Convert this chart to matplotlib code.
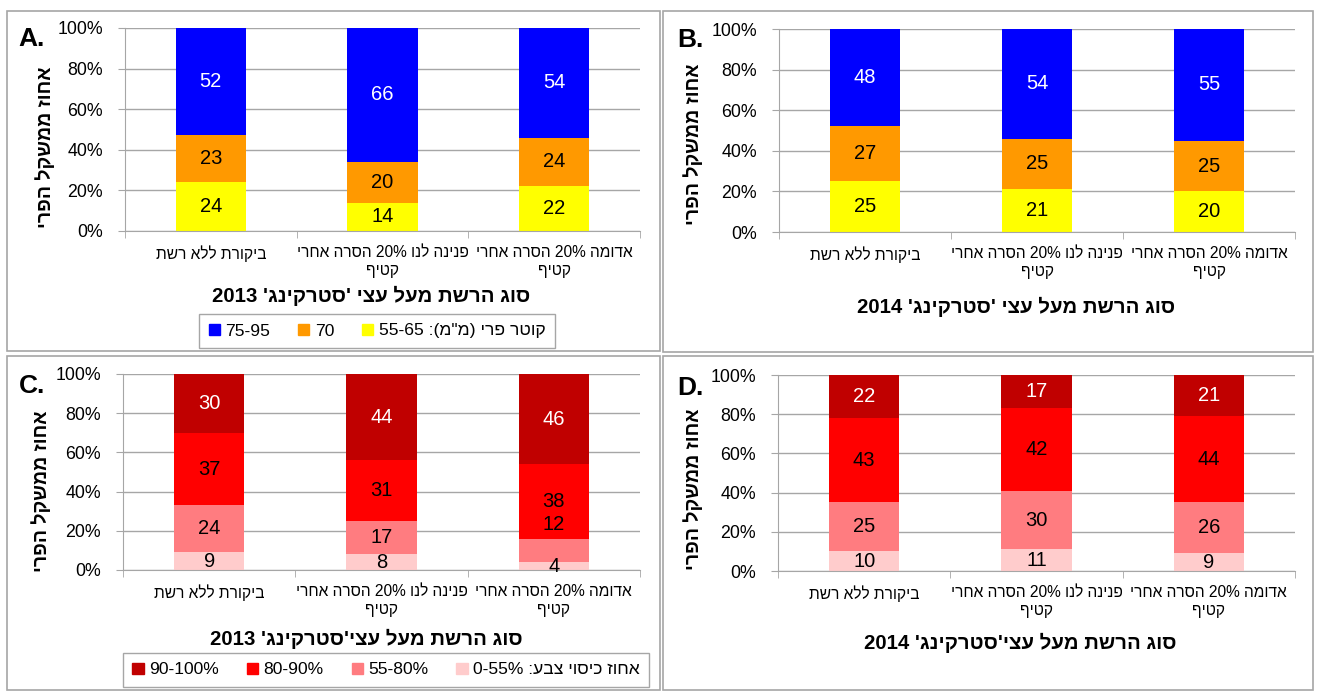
import re
import matplotlib.pyplot as plt
from matplotlib.patches import Patch, Rectangle
from matplotlib.ticker import FuncFormatter, FixedLocator

plt.rcParams['font.family'] = ['Liberation Sans', 'DejaVu Sans']

# categories (logical Hebrew order, one entry per bar)
categories = ['ביקורת ללא רשת',
              'פנינה לנו 20% הסרה אחרי\nקטיף',
              'אדומה 20% הסרה אחרי\nקטיף']

# fruit diameter classes
size13_55_65 = [24, 14, 22]
size13_70 = [23, 20, 24]
size13_75_95 = [52, 66, 54]
size14_55_65 = [25, 21, 20]
size14_70 = [27, 25, 25]
size14_75_95 = [48, 54, 55]

# colour cover classes
cover13_0_55 = [9, 8, 4]
cover13_55_80 = [24, 17, 12]
cover13_80_90 = [37, 31, 38]
cover13_90_100 = [30, 44, 46]
cover14_0_55 = [10, 11, 9]
cover14_55_80 = [25, 30, 26]
cover14_80_90 = [43, 42, 44]
cover14_90_100 = [22, 17, 21]

size_labels = ['קוטר פרי (מ"מ): 55-65', '70', '75-95']
cover_labels = ['אחוז כיסוי צבע: 0-55%', '55-80%', '80-90%', '90-100%']
titles = ["סוג הרשת מעל עצי 'סטרקינג' 2013",
          "סוג הרשת מעל עצי 'סטרקינג' 2014",
          "סוג הרשת מעל עצי'סטרקינג' 2013",
          "סוג הרשת מעל עצי'סטרקינג' 2014"]
ylab = 'אחוז ממשקל הפרי'

size_colors = ['#FFFF00', '#FF9900', '#0000FF']
size_text = ['black', 'black', 'white']
cover_colors = ['#FFCCCC', '#FF7C80', '#FF0000', '#C00000']
cover_text = ['black', 'black', 'black', 'white']

NUM = r'[0-9][0-9%\-.]*'
MIRROR = str.maketrans('()', ')(')


def heb(s):
    # crude right-to-left reordering, numbers stay left-to-right
    out = []
    for line in s.split('\n'):
        parts = re.split('(' + NUM + ')', line)
        vis = ''
        for p in parts[::-1]:
            if re.fullmatch(NUM, p):
                vis += p
            else:
                vis += p[::-1].translate(MIRROR)
        out.append(vis)
    return '\n'.join(out)


W, H = 1317, 693
fig = plt.figure(figsize=(W / 100, H / 100), dpi=100)


def fx(px):
    return px / W


def fy(py):
    return 1 - py / H


grey = '#A6A6A6'

# panel frames
for x0, y0, x1, y1 in [(7, 11, 660, 351), (663, 11, 1313, 352),
                       (7, 356, 660, 690), (663, 356, 1313, 690)]:
    fig.patches.append(Rectangle((fx(x0), fy(y1)), fx(x1 - x0), (y1 - y0) / H,
                                 transform=fig.transFigure, fill=False,
                                 edgecolor=grey, lw=1.2))


def panel(rect, series, colors, tcolors):
    l, t, r, b = rect
    ax = fig.add_axes([fx(l), fy(b), fx(r - l), (b - t) / H])
    x = [0, 1, 2]
    totals = [sum(v) for v in zip(*series)]
    bottom = [0, 0, 0]
    labels = []
    for vals, c, tc in zip(series, colors, tcolors):
        frac = [v / tot * 100 for v, tot in zip(vals, totals)]
        bars = ax.bar(x, frac, width=0.41, bottom=bottom, color=c, zorder=2)
        labels.append(ax.bar_label(bars, labels=[str(v) for v in vals],
                                   label_type='center', color=tc, fontsize=14.5))
        bottom = [bb + f for bb, f in zip(bottom, frac)]
    ax.set_xlim(-0.5, 2.5)
    ax.set_ylim(0, 100)
    ax.set_yticks(range(0, 101, 20))
    ax.yaxis.set_major_formatter(FuncFormatter(lambda v, p: f'{v:.0f}%'))
    ax.yaxis.grid(True, color=grey, lw=1)
    ax.set_axisbelow(True)
    ax.set_xticks(x)
    ax.set_xticklabels([heb(c) for c in categories], fontsize=11.2,
                       linespacing=1.3)
    ax.xaxis.set_minor_locator(FixedLocator([-0.5, 0.5, 1.5, 2.5]))
    ax.tick_params(axis='x', which='major', length=0, pad=10)
    ax.tick_params(axis='x', which='minor', length=5, color=grey)
    ax.tick_params(axis='y', length=5, color=grey, labelsize=12.8, pad=11)
    for s in ['top', 'right']:
        ax.spines[s].set_visible(False)
    for s in ['left', 'bottom']:
        ax.spines[s].set_color(grey)
    return labels


panel((125, 28, 640, 231), [size13_55_65, size13_70, size13_75_95],
      size_colors, size_text)
panel((779, 29, 1295, 232), [size14_55_65, size14_70, size14_75_95],
      size_colors, size_text)
lab_c = panel((123, 374, 640, 570),
              [cover13_0_55, cover13_55_80, cover13_80_90, cover13_90_100],
              cover_colors, cover_text)
# the "12" label sits above its thin segment in the original
lab_c[1][2].xyann = (0, 19)
panel((778, 375, 1295, 571),
      [cover14_0_55, cover14_55_80, cover14_80_90, cover14_90_100],
      cover_colors, cover_text)

# axis titles
for (px, py), t in zip([(371, 296), (1016, 307), (366, 639), (1020, 643)], titles):
    fig.text(fx(px), fy(py), heb(t), ha='center', va='center',
             fontsize=14.7, fontweight='bold')

# y labels
for px, py in [(45, 147), (693, 144), (41, 491), (693, 489)]:
    fig.text(fx(px), fy(py), heb(ylab), rotation=90, ha='center', va='center',
             fontsize=14, fontweight='bold')

# panel letters
for (px, py), s in zip([(32, 39), (690, 40), (32, 386), (690, 388)], 'ABCD'):
    fig.text(fx(px), fy(py), s + '.', ha='center', va='center',
             fontsize=19, fontweight='bold')

# legends (left-to-right order as drawn in the reference)
h = [Patch(color=c) for c in size_colors][::-1]
leg = fig.legend(h, [heb(s) for s in size_labels][::-1], ncol=3, loc='center',
                 bbox_to_anchor=(fx(377), fy(331)), fontsize=12.6,
                 handlelength=0.65, handleheight=0.65, handletextpad=0.3,
                 columnspacing=1.6, fancybox=False, edgecolor=grey,
                 borderpad=0.55, borderaxespad=0, framealpha=1)
leg.get_frame().set_linewidth(1)

h = [Patch(color=c) for c in cover_colors][::-1]
leg = fig.legend(h, [heb(s) for s in cover_labels][::-1], ncol=4, loc='center',
                 bbox_to_anchor=(fx(386), fy(670)), fontsize=12.6,
                 handlelength=0.65, handleheight=0.65, handletextpad=0.3,
                 columnspacing=1.6, fancybox=False, edgecolor=grey,
                 borderpad=0.55, borderaxespad=0, framealpha=1)
leg.get_frame().set_linewidth(1)

fig.savefig('out.png', dpi=100)
